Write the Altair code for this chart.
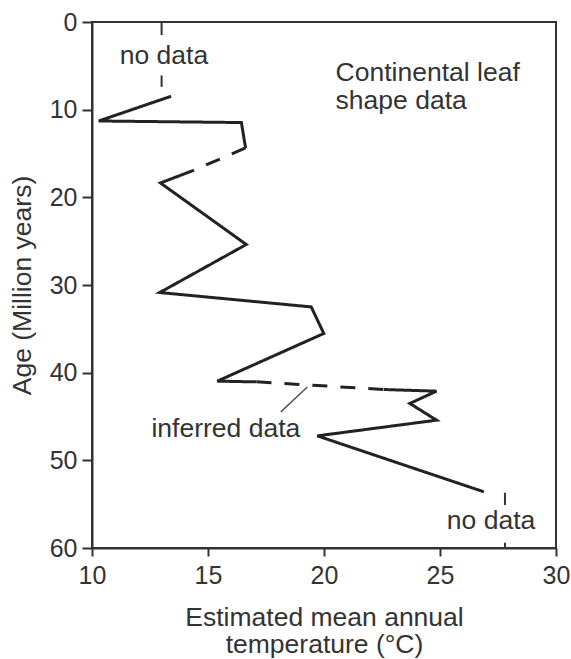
import altair as alt
import pandas as pd

# ---- data ----
temp = [13.41, 10.29, 16.44, 16.62, 14.39, 12.95, 16.65, 12.92, 19.45, 19.99,
        15.40, 17.09, 22.58, 24.85, 23.70, 24.85, 19.71, 26.89]
age = [8.47, 11.29, 11.47, 14.37, 16.91, 18.36, 25.38, 30.86, 32.50, 35.53,
       40.97, 41.05, 41.92, 42.11, 43.51, 45.42, 47.21, 53.59]
# segments: (first index, last index, style)
seg_start = [0, 3, 4, 11, 12]
seg_end = [3, 4, 11, 12, 17]
seg_style = ["solid", "dashed", "solid", "dashed", "solid"]

# "no data" vertical dashes
nd_temp = [13.0, 13.0, 27.8, 27.8]
nd_age1 = [0.0, 6.1, 53.7, 59.4]
nd_age2 = [1.5, 7.4, 55.1, 60.0]

# pointer for "inferred data"
ptr_t1, ptr_a1, ptr_t2, ptr_a2 = [18.14], [44.47], [19.28], [41.63]

# annotations
center_text = ["no data", "no data", "inferred data"]
center_t = [13.1, 27.2, 15.77]
center_a = [4.8, 57.8, 47.3]
left_text = ["Continental leaf\nshape data"]
left_t = [20.5]
left_a = [6.76]

x_ticks = [10, 15, 20, 25, 30]
y_ticks = [0, 10, 20, 30, 40, 50, 60]

FONT = "Liberation Sans"
INK = "#333333"
TS = 26.5

rows = []
for s, (i0, i1, st) in enumerate(zip(seg_start, seg_end, seg_style)):
    for k, i in enumerate(range(i0, i1 + 1)):
        rows.append({"seg": s, "style": st, "ord": k, "t": temp[i], "a": age[i]})
df = pd.DataFrame(rows)

xs = alt.Scale(domain=[10, 30], nice=False, zero=False)
ys = alt.Scale(domain=[0, 60], nice=False, zero=False, reverse=True)

xax = alt.Axis(values=x_ticks, title=["Estimated mean annual", "temperature (°C)"],
               grid=False, tickSize=8, labelPadding=7, labelFontSize=25, labelFlush=False,
               titleFontSize=TS, titleFontWeight="normal", titleX=232, titleY=77,
               titleBaseline="alphabetic", titleAlign="center", titleLineHeight=27.5)
yax = alt.Axis(values=y_ticks, title="Age (Million years)", grid=False, tickSize=10,
               labelPadding=5, labelFontSize=25, labelFlush=False, titleFontSize=TS,
               titleFontWeight="normal", titleAngle=270, titleX=-62, titleY=263,
               titleBaseline="alphabetic", titleAlign="center")

base = alt.Chart(df)
line = base.mark_line(color="#222222", strokeWidth=3, strokeJoin="miter").encode(
    x=alt.X("t:Q", scale=xs, axis=xax),
    y=alt.Y("a:Q", scale=ys, axis=yax),
    detail="seg:N",
    order="ord:Q",
    strokeDash=alt.StrokeDash("style:N", scale=alt.Scale(
        domain=["solid", "dashed"], range=[[1, 0], [15, 13]]), legend=None),
)

nd = alt.Chart(pd.DataFrame({"t": nd_temp, "a1": nd_age1, "a2": nd_age2})).mark_rule(
    color=INK, strokeWidth=2).encode(
    x=alt.X("t:Q", scale=xs), y=alt.Y("a1:Q", scale=ys), y2="a2:Q")

ptr = alt.Chart(pd.DataFrame({"t1": ptr_t1, "a1": ptr_a1, "t2": ptr_t2, "a2": ptr_a2})).mark_rule(
    color="#555555", strokeWidth=1.5).encode(
    x=alt.X("t1:Q", scale=xs), y=alt.Y("a1:Q", scale=ys), x2="t2:Q", y2="a2:Q")

ctext = alt.Chart(pd.DataFrame({"txt": center_text, "t": center_t, "a": center_a})).mark_text(
    font=FONT, fontSize=TS, color=INK, align="center", baseline="alphabetic").encode(
    x=alt.X("t:Q", scale=xs), y=alt.Y("a:Q", scale=ys), text="txt:N")

ltext = alt.Chart(pd.DataFrame({"txt": left_text, "t": left_t, "a": left_a})).mark_text(
    font=FONT, fontSize=TS, color=INK, align="left", baseline="alphabetic",
    lineBreak="\n", lineHeight=27.5).encode(
    x=alt.X("t:Q", scale=xs), y=alt.Y("a:Q", scale=ys), text="txt:N")

chart = alt.layer(line, nd, ptr, ctext, ltext).properties(
    width=464, height=526,
    autosize=alt.AutoSizeParams(type="none"),
    padding={"left": 92, "top": 22, "right": 15, "bottom": 111},
    background="white",
).configure_view(stroke=INK, strokeWidth=2).configure_axis(
    domainColor=INK, domainWidth=2, tickColor=INK, tickWidth=2,
    labelColor=INK, titleColor=INK, labelFont=FONT, titleFont=FONT,
)

chart.save("out.html", embed_options={"renderer": "svg", "actions": False})
